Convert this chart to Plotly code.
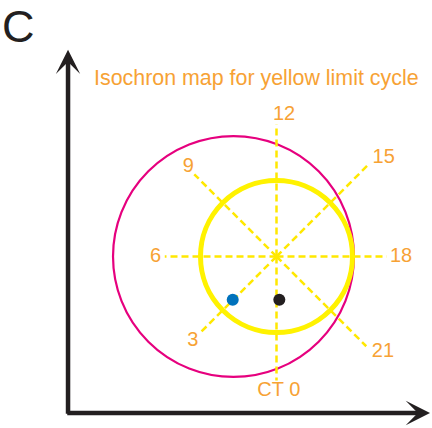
import numpy as np
import plotly.graph_objects as go

# ---- data (unit = radius of yellow limit cycle, origin at its centre) ----
phase_labels = ["12", "15", "18", "21", "CT 0", "3", "6", "9"]
spoke_angles_deg = [90, 45, 0, -45, -90, -135, 180, 135]
spoke_lengths = [1.74, 1.71, 1.45, 1.67, 1.63, 1.42, 1.47, 1.53]
label_x = [0.10, 1.41, 1.64, 1.40, 0.03, -1.10, -1.59, -1.16]
label_y = [1.86, 1.30, -0.01, -1.26, -1.77, -1.11, 0.00, 1.18]

yellow_cycle = {"cx": 0.0, "cy": 0.0, "r": 1.0}
magenta_cycle = {"cx": -0.566, "cy": 0.0, "r": 1.585}

point_names = ["blue", "black"]
point_x = [-0.576, 0.037]
point_y = [-0.568, -0.568]
point_colors = ["#0072BC", "#231F20"]

axis_origin = (-2.743, -2.059)
axis_x_end = 2.02
axis_y_end = 2.72

title_text = "Isochron map for yellow limit cycle"
panel_label = "C"

# ---- styles ----
ORANGE = "#F7A234"
YELLOW = "#FFF200"
DASH_YELLOW = "#FFE800"
MAGENTA = "#E6007E"
AXIS = "#231F20"
FONT = "Liberation Sans, Arial, sans-serif"

W, H = 432, 428
PX = 76.0
cx_pix, cy_pix = 276.5, 256.5
x0 = -cx_pix / PX
x1 = x0 + W / PX
y1 = cy_pix / PX
y0 = y1 - H / PX

fig = go.Figure()

shapes = []
# magenta circle
shapes.append(dict(type="circle", xref="x", yref="y",
                   x0=magenta_cycle["cx"] - magenta_cycle["r"], x1=magenta_cycle["cx"] + magenta_cycle["r"],
                   y0=magenta_cycle["cy"] - magenta_cycle["r"], y1=magenta_cycle["cy"] + magenta_cycle["r"],
                   line=dict(color=MAGENTA, width=2.2), layer="below"))
# spokes
for ang, ln in zip(spoke_angles_deg, spoke_lengths):
    a = np.deg2rad(ang)
    shapes.append(dict(type="line", xref="x", yref="y",
                       x0=yellow_cycle["cx"], y0=yellow_cycle["cy"],
                       x1=yellow_cycle["cx"] + ln * np.cos(a), y1=yellow_cycle["cy"] + ln * np.sin(a),
                       line=dict(color=DASH_YELLOW, width=2.5, dash="7px,4px"), layer="below"))
# yellow circle
shapes.append(dict(type="circle", xref="x", yref="y",
                   x0=yellow_cycle["cx"] - yellow_cycle["r"], x1=yellow_cycle["cx"] + yellow_cycle["r"],
                   y0=yellow_cycle["cy"] - yellow_cycle["r"], y1=yellow_cycle["cy"] + yellow_cycle["r"],
                   line=dict(color=YELLOW, width=5), layer="below"))

fig.add_trace(go.Scatter(x=label_x, y=label_y, mode="text", text=phase_labels,
                         textposition="middle center",
                         textfont=dict(family=FONT, size=20, color=ORANGE),
                         hoverinfo="skip", showlegend=False, cliponaxis=False))
fig.add_trace(go.Scatter(x=point_x, y=point_y, mode="markers",
                         marker=dict(size=12, color=point_colors, line=dict(width=0)),
                         text=point_names, showlegend=False))

annotations = [
    dict(x=axis_x_end, y=axis_origin[1], ax=axis_origin[0] - 0.03, ay=axis_origin[1],
         xref="x", yref="y", axref="x", ayref="y", text="", showarrow=True,
         arrowhead=3, arrowsize=0.9, arrowwidth=4.5, arrowcolor=AXIS, standoff=0),
    dict(x=axis_origin[0], y=axis_y_end, ax=axis_origin[0], ay=axis_origin[1] - 0.03,
         xref="x", yref="y", axref="x", ayref="y", text="", showarrow=True,
         arrowhead=3, arrowsize=0.9, arrowwidth=4.5, arrowcolor=AXIS, standoff=0),
    dict(x=(95 + 418) / 2 / W, y=1 - 78 / H, xref="paper", yref="paper",
         text=title_text, showarrow=False, xanchor="center", yanchor="middle",
         font=dict(family=FONT, size=21.4, color=ORANGE)),
    dict(x=18.5 / W, y=1 - 26.5 / H, xref="paper", yref="paper",
         text=panel_label, showarrow=False, xanchor="center", yanchor="middle",
         font=dict(family=FONT, size=45, color=AXIS)),
]

fig.update_layout(
    width=W, height=H, margin=dict(l=0, r=0, t=0, b=0),
    paper_bgcolor="white", plot_bgcolor="white",
    xaxis=dict(range=[x0, x1], visible=False, fixedrange=True),
    yaxis=dict(range=[y0, y1], visible=False, fixedrange=True),
    shapes=shapes, annotations=annotations, showlegend=False,
)

fig.write_html("out.html", config={"displayModeBar": False},
               post_script="document.body.style.margin='0';document.body.style.overflow='hidden';")
